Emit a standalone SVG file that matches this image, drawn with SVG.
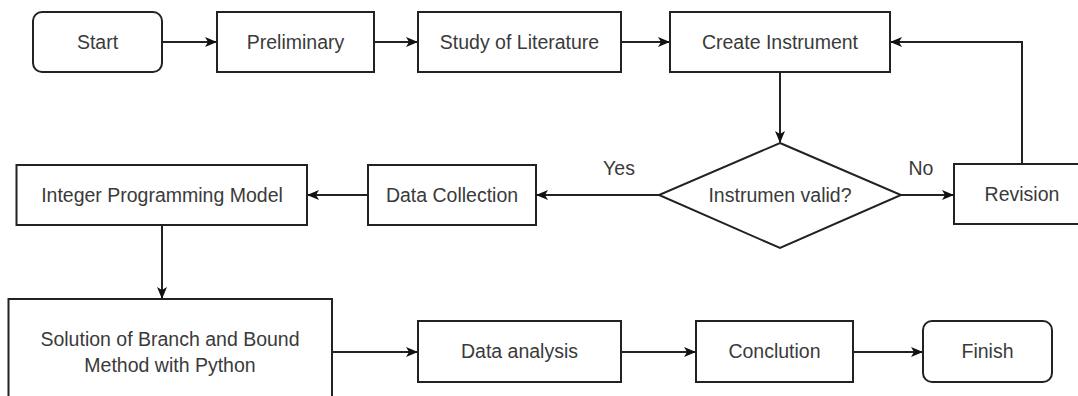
<svg xmlns="http://www.w3.org/2000/svg" width="1078" height="396" viewBox="0 0 1078 396">
<defs>
<marker id="arr" viewBox="0 0 12 12" refX="11" refY="6" markerWidth="12" markerHeight="12" markerUnits="userSpaceOnUse" orient="auto">
<path d="M0,1 L12,6 L0,11 L3,6 z" fill="#111"/>
</marker>
<style>
.box{fill:#fff;stroke:#222;stroke-width:2}
.t{font-family:"Liberation Sans",Arial,sans-serif;font-size:19.5px;fill:#3a3a3a;text-anchor:middle;dominant-baseline:central}
.c{fill:none;stroke:#222;stroke-width:2;marker-end:url(#arr)}
</style>
</defs>
<rect width="1078" height="396" fill="#fff"/>
<g id="connectors">
<path class="c" d="M162,42 H216"/>
<path class="c" d="M374,42 H417"/>
<path class="c" d="M621,42 H669"/>
<path class="c" d="M780,72 V142"/>
<path class="c" d="M1022,164 V42 H891"/>
<path class="c" d="M901,195 H953"/>
<path class="c" d="M659,195 H537"/>
<path class="c" d="M368,195 H308"/>
<path class="c" d="M162,225 V298"/>
<path class="c" d="M332,352 H417"/>
<path class="c" d="M621,352 H695"/>
<path class="c" d="M853,352 H922"/>
<text class="t" x="619" y="168">Yes</text>
<text class="t" x="921" y="168">No</text>
</g>
<g id="start"><rect class="box" x="33" y="12" width="129" height="60" rx="9"/><text class="t" x="97.5" y="42">Start</text></g>
<g id="preliminary"><rect class="box" x="217" y="12" width="157" height="60"/><text class="t" x="295.5" y="42">Preliminary</text></g>
<g id="study"><rect class="box" x="418" y="12" width="203" height="60"/><text class="t" x="519.5" y="42">Study of Literature</text></g>
<g id="create"><rect class="box" x="670" y="12" width="220" height="60"/><text class="t" x="780" y="42">Create Instrument</text></g>
<g id="decision"><polygon class="box" points="780,143 901,195 780,248 659,195"/><text class="t" x="780" y="195">Instrumen valid?</text></g>
<g id="revision"><rect class="box" x="954" y="164" width="136" height="60"/><text class="t" x="1022" y="194">Revision</text></g>
<g id="datacollection"><rect class="box" x="368" y="165" width="168" height="60"/><text class="t" x="452" y="195">Data Collection</text></g>
<g id="ipm"><rect class="box" x="16.5" y="165" width="290.5" height="60"/><text class="t" x="162" y="195">Integer Programming Model</text></g>
<g id="solution"><rect class="box" x="8.5" y="299" width="323.5" height="110"/><text class="t" x="170" y="339">Solution of Branch and Bound</text><text class="t" x="170" y="365">Method with Python</text></g>
<g id="analysis"><rect class="box" x="418" y="321" width="203" height="61"/><text class="t" x="519.5" y="351">Data analysis</text></g>
<g id="conclution"><rect class="box" x="696" y="321" width="157" height="61"/><text class="t" x="774.5" y="351">Conclution</text></g>
<g id="finish"><rect class="box" x="923" y="321" width="129" height="61" rx="9"/><text class="t" x="987.5" y="351">Finish</text></g>
</svg>
